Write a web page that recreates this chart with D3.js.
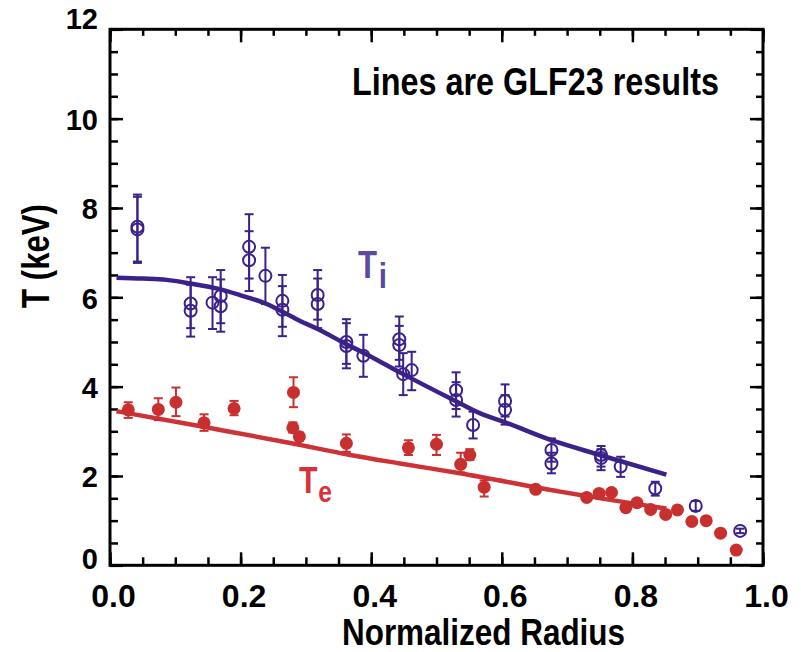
<!DOCTYPE html>
<html>
<head>
<meta charset="utf-8">
<script src="https://cdn.jsdelivr.net/npm/d3@7"></script>
<style>
  body { margin: 0; background: #fff; }
  svg text { font-family: "Liberation Sans", Arial, sans-serif; font-weight: bold; }
</style>
</head>
<body>
<div id="chart"></div>
<script>
// measured Ti (open circles), each with its error range
var tiX  = [0.042,0.042,0.1235,0.1235,0.157,0.1695,0.1695,0.213,0.213,0.238,0.264,0.264,0.318,0.318,0.362,0.362,0.388,0.443,0.443,0.449,0.462,0.530,0.530,0.556,0.605,0.605,0.676,0.676,0.752,0.752,0.782,0.835,0.897,0.965];
var tiY  = [7.58,7.52,5.86,5.70,5.88,6.03,5.80,7.13,6.83,6.48,5.92,5.72,6.05,5.85,5.00,4.91,4.69,5.06,4.93,4.28,4.37,3.92,3.70,3.14,3.68,3.48,2.58,2.28,2.47,2.40,2.21,1.72,1.33,0.77];
var tiHi = [8.30,8.25,6.45,6.28,6.45,6.61,6.40,7.86,7.48,7.11,6.50,6.25,6.61,6.42,5.51,5.42,5.16,5.57,5.36,4.75,4.78,4.32,4.10,3.44,4.05,3.81,2.84,2.52,2.67,2.60,2.43,1.87,1.44,0.82];
var tiLo = [6.80,6.77,5.31,5.12,5.29,5.42,5.23,6.42,6.14,5.85,5.34,5.13,5.50,5.31,4.51,4.41,4.22,4.60,4.45,3.81,3.92,3.50,3.33,2.84,3.33,3.15,2.32,2.06,2.21,2.13,1.98,1.56,1.22,0.72];

// measured Te (filled circles); null = no error bar drawn
var teX  = [0.028,0.074,0.101,0.144,0.190,0.281,0.280,0.290,0.362,0.457,0.500,0.537,0.551,0.573,0.652,0.730,0.749,0.768,0.790,0.807,0.828,0.851,0.869,0.891,0.913,0.935,0.959];
var teY  = [3.48,3.49,3.65,3.19,3.51,3.87,3.08,2.88,2.73,2.63,2.71,2.26,2.47,1.75,1.70,1.52,1.61,1.63,1.29,1.40,1.25,1.14,1.24,0.98,1.00,0.72,0.34];
var teHi = [3.65,3.74,3.98,3.38,3.68,4.21,3.20,2.97,2.93,2.80,2.92,2.52,2.60,1.90,null,null,null,null,null,null,null,null,null,null,null,null,null];
var teLo = [3.30,3.25,3.34,3.01,3.36,3.54,2.97,2.80,2.54,2.47,2.47,2.08,2.36,1.54,null,null,null,null,null,null,null,null,null,null,null,null,null];

// GLF23 model curves
var glfTiX = [0.01,0.05,0.087,0.1225,0.163,0.199,0.24,0.265,0.291,0.318,0.362,0.388,0.449,0.526,0.567,0.605,0.676,0.750,0.852];
var glfTiY = [6.44,6.42,6.39,6.31,6.20,6.05,5.85,5.67,5.47,5.29,4.95,4.76,4.28,3.70,3.40,3.20,2.80,2.47,2.03];
var glfTeX = [0.01,0.143,0.276,0.368,0.444,0.536,0.689,0.852];
var glfTeY = [3.45,3.10,2.74,2.47,2.28,2.06,1.65,1.27];

var xMajor = [0, 0.2, 0.4, 0.6, 0.8, 1.0];
var xMinor = d3.range(0, 21).map(function(i){ return i * 0.05; });
var yMajor = [0, 2, 4, 6, 8, 10, 12];
var yMinor = d3.range(0, 25).map(function(i){ return i * 0.5; });

var tiColor = "#3b2189", teColor = "#c8302f";

var svg = d3.select("#chart").append("svg")
  .attr("width", 801)
  .attr("height", 652);

var x = d3.scaleLinear().domain([0, 1]).range([110, 763]);
var y = d3.scaleLinear().domain([0, 12]).range([565.3, 29.3]);

var fmtX = d3.format(".1f");

function drawAxis(axis, tr, values, size, labels){
  var g = svg.append("g")
    .attr("transform", tr)
    .call(axis.tickValues(values).tickSizeInner(size).tickSizeOuter(0).tickPadding(0));
  g.select(".domain").remove();
  g.selectAll(".tick line").attr("stroke", "#000").attr("stroke-width", 2.5);
  if (!labels) g.selectAll(".tick text").remove();
  return g;
}

// minor ticks on all four sides
drawAxis(d3.axisBottom(x), "translate(0,565.3)", xMinor, -8, false);
drawAxis(d3.axisTop(x), "translate(0,29.3)", xMinor, -6.5, false);
drawAxis(d3.axisLeft(y), "translate(110,0)", yMinor, -8, false);
drawAxis(d3.axisRight(y), "translate(763,0)", yMinor, -7, false);

// major ticks
var xb = drawAxis(d3.axisBottom(x).tickFormat(fmtX), "translate(0,565.3)", xMajor, -13, true);
drawAxis(d3.axisTop(x), "translate(0,29.3)", xMajor, -13, false);
var yl = drawAxis(d3.axisLeft(y).tickFormat(d3.format("d")), "translate(110,0)", yMajor, -13, true);
drawAxis(d3.axisRight(y), "translate(763,0)", yMajor, -13, false);

xb.selectAll(".tick text")
  .attr("y", 0).attr("dy", 0)
  .attr("transform", "translate(3,42)")
  .attr("fill", "#000")
  .style("font-size", "32px");

yl.selectAll(".tick text")
  .attr("x", -12).attr("dy", 0)
  .attr("y", function(d){ return d === 12 ? -0.5 : d === 0 ? 2.7 : 11; })
  .attr("fill", "#000")
  .style("font-size", "29px");

// frame
svg.append("rect")
  .attr("x", 110).attr("y", 29.3)
  .attr("width", 653).attr("height", 536)
  .attr("fill", "none")
  .attr("stroke", "#000")
  .attr("stroke-width", 3);

// model curves
var line = d3.line()
  .x(function(d){ return x(d[0]); })
  .y(function(d){ return y(d[1]); })
  .curve(d3.curveMonotoneX);

svg.append("path")
  .datum(d3.zip(glfTiX, glfTiY))
  .attr("d", line)
  .attr("fill", "none")
  .attr("stroke", tiColor)
  .attr("stroke-width", 4.5);

svg.append("path")
  .datum(d3.zip(glfTeX, glfTeY))
  .attr("d", line)
  .attr("fill", "none")
  .attr("stroke", "#cc3236")
  .attr("stroke-width", 4.5);

// error bars + caps
function errBars(xs, ys, his, los, color){
  var data = xs.map(function(v, i){ return {x: v, y: ys[i], hi: his[i], lo: los[i]}; })
    .filter(function(d){ return d.hi != null; });
  var g = svg.append("g").attr("stroke", color).attr("stroke-width", 2);
  g.selectAll("line.bar").data(data).enter().append("line")
    .attr("x1", function(d){ return x(d.x); })
    .attr("x2", function(d){ return x(d.x); })
    .attr("y1", function(d){ return y(d.hi); })
    .attr("y2", function(d){ return y(d.lo); });
  ["hi", "lo"].forEach(function(k){
    g.selectAll("line.cap" + k).data(data).enter().append("line")
      .attr("x1", function(d){ return x(d.x) - 4.5; })
      .attr("x2", function(d){ return x(d.x) + 4.5; })
      .attr("y1", function(d){ return y(d[k]); })
      .attr("y2", function(d){ return y(d[k]); });
  });
}

errBars(teX, teY, teHi, teLo, teColor);
errBars(tiX, tiY, tiHi, tiLo, tiColor);

svg.append("g").selectAll("circle")
  .data(d3.zip(teX, teY))
  .enter().append("circle")
  .attr("cx", function(d){ return x(d[0]); })
  .attr("cy", function(d){ return y(d[1]); })
  .attr("r", 6.5)
  .attr("fill", teColor);

svg.append("g").selectAll("circle")
  .data(d3.zip(tiX, tiY))
  .enter().append("circle")
  .attr("cx", function(d){ return x(d[0]); })
  .attr("cy", function(d){ return y(d[1]); })
  .attr("r", 6)
  .attr("fill", "none")
  .attr("stroke", tiColor)
  .attr("stroke-width", 2);

// condensed bold text: no narrow font installed, so squeeze horizontally
function narrow(px, py, rot, sx){
  return svg.append("g")
    .attr("transform", "translate(" + px + "," + py + ")" + (rot ? " rotate(" + rot + ")" : "") + " scale(" + (sx || 0.82) + ",1)")
    .append("text");
}

narrow(352, 95, 0, 0.83)
  .style("font-size", "39px")
  .text("Lines are GLF23 results");

var ti = narrow(358, 278.3)
  .attr("fill", "#5a4b9e")
  .style("font-size", "38px");
ti.append("tspan").text("T");
ti.append("tspan").attr("dx", 2).attr("dy", 10).style("font-size", "36px").text("i");

var te = narrow(299, 493.3)
  .attr("fill", "#d8313c")
  .style("font-size", "37px");
te.append("tspan").text("T");
te.append("tspan").attr("dx", 1).attr("dy", 8.5).style("font-size", "30px").text("e");

// axis titles
narrow(483.5, 645, 0, 0.85)
  .attr("text-anchor", "middle")
  .style("font-size", "37px")
  .text("Normalized Radius");

narrow(49, 256, -90)
  .attr("text-anchor", "middle")
  .style("font-size", "38px")
  .text("T (keV)");
</script>
</body>
</html>
